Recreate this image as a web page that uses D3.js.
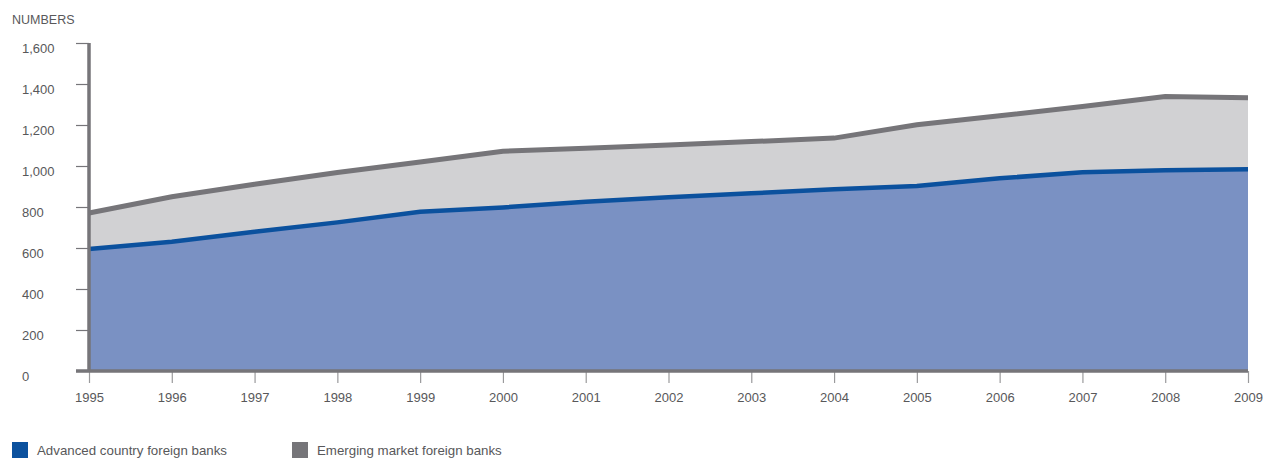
<!DOCTYPE html>
<html>
<head>
<meta charset="utf-8">
<script src="https://cdn.jsdelivr.net/npm/d3@7"></script>
<style>
    body { margin: 0; background: #fff; }
    text { font-family: "Liberation Sans", Arial, Helvetica, sans-serif; fill: #58585a; }
</style>
</head>
<body>
<div id="chart"></div>
<script>

// data
let years = [1995, 1996, 1997, 1998, 1999, 2000, 2001, 2002, 2003, 2004, 2005, 2006, 2007, 2008, 2009];
let advanced = [595, 630, 679, 725, 777, 798, 826, 847, 867, 886, 903, 940, 969, 979, 984];
let emerging = [176, 220, 232, 243, 243, 274, 261, 256, 252, 250, 298, 305, 321, 360, 349];
let yTicks = [0, 200, 400, 600, 800, 1000, 1200, 1400, 1600];
let seriesNames = ["Advanced country foreign banks", "Emerging market foreign banks"];

let colors = {
    advancedFill: "#7a91c3",
    advancedLine: "#0b519e",
    emergingFill: "#d1d1d3",
    emergingLine: "#767579",
    axis: "#767579"
};

let margin = {top: 43, right: 29, bottom: 88, left: 89};
let totalWidth = 1277, totalHeight = 459;
let width = totalWidth - margin.left - margin.right;
let height = totalHeight - margin.top - margin.bottom;

let svg = d3.select("#chart").append("svg")
    .attr("width", totalWidth)
    .attr("height", totalHeight);

let g = svg.append("g")
    .attr("transform", "translate(" + margin.left + "," + margin.top + ")");

// table for the stack
let table = years.map((y, i) => ({year: y, advanced: advanced[i], emerging: emerging[i]}));
let stacked = d3.stack().keys(["advanced", "emerging"])(table);

// scales
let x = d3.scaleLinear().domain(d3.extent(years)).range([0, width]);
let y = d3.scaleLinear().domain([0, 1600]).range([height, 0]);

// areas
let area = d3.area()
    .x(d => x(d.data.year))
    .y0(d => y(d[0]))
    .y1(d => y(d[1]));

g.append("path")
    .datum(stacked[0])
    .attr("d", area)
    .attr("fill", colors.advancedFill);

g.append("path")
    .datum(stacked[1])
    .attr("d", area)
    .attr("fill", colors.emergingFill);

// top lines
let topLine = d3.line()
    .x(d => x(d.data.year))
    .y(d => y(d[1]));

g.append("path")
    .datum(stacked[0])
    .attr("d", topLine)
    .attr("fill", "none")
    .attr("stroke", colors.advancedLine)
    .attr("stroke-width", 4.5);

g.append("path")
    .datum(stacked[1])
    .attr("d", topLine)
    .attr("fill", "none")
    .attr("stroke", colors.emergingLine)
    .attr("stroke-width", 5);

// y axis
let yAxis = g.append("g")
    .attr("class", "axis axis--y")
    .call(d3.axisLeft(y).tickValues(yTicks).tickSize(13).tickFormat(d3.format(",")));

yAxis.select(".domain").remove();
yAxis.selectAll(".tick line")
    .attr("stroke", colors.axis)
    .attr("stroke-width", 1.2);
yAxis.selectAll(".tick text")
    .attr("x", 22 - margin.left)
    .attr("dy", "0.72em")
    .attr("y", 0)
    .attr("text-anchor", "start")
    .style("font-size", "13px")
    .style("fill", "#58585a");

// x axis
let xAxis = g.append("g")
    .attr("class", "axis axis--x")
    .attr("transform", "translate(0," + height + ")")
    .call(d3.axisBottom(x).tickValues(years).tickSize(12).tickFormat(d3.format("d")));

xAxis.select(".domain").remove();
xAxis.selectAll(".tick line")
    .attr("stroke", "#9a9a9c")
    .attr("stroke-width", 1.2);
xAxis.selectAll(".tick text")
    .attr("y", 22)
    .attr("dy", "0.72em")
    .style("font-size", "13px")
    .style("fill", "#58585a");

// thick axis lines
g.append("line")
    .attr("x1", 0).attr("x2", 0)
    .attr("y1", y(1600)).attr("y2", height)
    .attr("stroke", colors.axis)
    .attr("stroke-width", 3.5);

g.append("line")
    .attr("x1", -13).attr("x2", width)
    .attr("y1", height).attr("y2", height)
    .attr("stroke", colors.axis)
    .attr("stroke-width", 3.5);

// unit label
svg.append("text")
    .attr("x", 12)
    .attr("y", 24)
    .style("font-size", "12.5px")
    .text("NUMBERS");

// legend
let legendX = [12, 292];
let legendColors = [colors.advancedLine, colors.emergingLine];

let legend = svg.append("g").attr("class", "legend");
seriesNames.forEach((name, i) => {
    legend.append("rect")
        .attr("x", legendX[i])
        .attr("y", 442)
        .attr("width", 16)
        .attr("height", 16)
        .attr("fill", legendColors[i]);
    legend.append("text")
        .attr("x", legendX[i] + 25)
        .attr("y", 455)
        .style("font-size", "13.3px")
        .text(name);
});

</script>
</body>
</html>
